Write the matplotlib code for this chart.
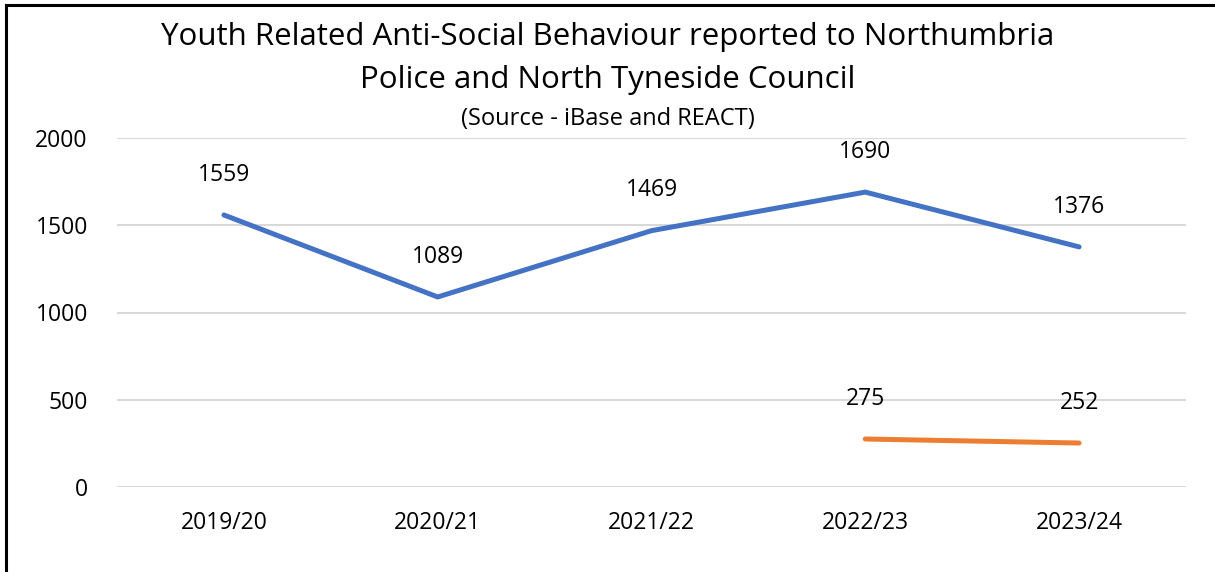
import matplotlib.pyplot as plt
from matplotlib.lines import Line2D

plt.rcParams['font.family'] = ['Open Sans', 'DejaVu Sans']

years = ["2019/20", "2020/21", "2021/22", "2022/23", "2023/24"]
police = [1559, 1089, 1469, 1690, 1376]
council_years = ["2022/23", "2023/24"]
council = [275, 252]

fig = plt.figure(figsize=(12.15, 5.72), dpi=100)
ax = fig.add_axes([117 / 1215, 1 - 487 / 572, (1186 - 117) / 1215, (487 - 138) / 572])

x = list(range(len(years)))
xc = [years.index(y) for y in council_years]

ax.plot(x, police, color="#4472C4", linewidth=3.6, solid_capstyle="round")
ax.plot(xc, council, color="#ED7D31", linewidth=3.6, solid_capstyle="round")

for xi, v in zip(x, police):
    ax.annotate(str(v), (xi, v), xytext=(0, 29), textcoords="offset points",
                ha="center", va="center", fontsize=16.5, color="black")
for xi, v in zip(xc, council):
    ax.annotate(str(v), (xi, v), xytext=(0, 29), textcoords="offset points",
                ha="center", va="center", fontsize=16.5, color="black")

ax.set_xlim(-0.5, 4.5)
ax.set_ylim(0, 2000)
ax.set_yticks([0, 500, 1000, 1500, 2000])
ax.set_xticks(x)
ax.set_xticklabels(years)
ax.grid(axis="y", color="#D9D9D9", linewidth=1.5)
ax.set_axisbelow(True)
for s in ax.spines.values():
    s.set_visible(False)
ax.tick_params(length=0, labelsize=16.5, colors="black")
ax.tick_params(axis="y", pad=21)
ax.tick_params(axis="x", pad=17)

fig.text(0.5, 1 - 37 / 572, "Youth Related Anti-Social Behaviour reported to Northumbria",
         ha="center", va="center", fontsize=22.5)
fig.text(0.5, 1 - 80 / 572, "Police and North Tyneside Council",
         ha="center", va="center", fontsize=22.5)
fig.text(0.5, 1 - 119 / 572, "(Source - iBase and REACT)",
         ha="center", va="center", fontsize=17)

# frame edges visible in the crop
fig.add_artist(Line2D([6 / 1215, 1], [1 - 5 / 572, 1 - 5 / 572], color="black", linewidth=2.2))
fig.add_artist(Line2D([6 / 1215, 6 / 1215], [0, 1 - 5 / 572], color="black", linewidth=2.2))

fig.savefig("out.png", dpi=100)
